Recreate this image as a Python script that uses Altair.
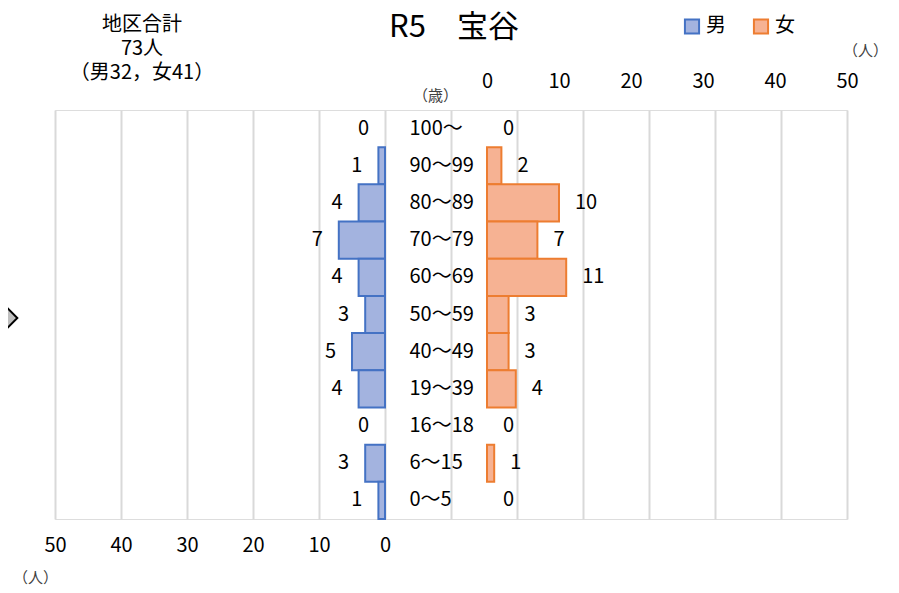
import altair as alt
import pandas as pd

# ---- data ----
ages = ["100～", "90～99", "80～89", "70～79", "60～69", "50～59",
        "40～49", "19～39", "16～18", "6～15", "0～5"]
male = [0, 1, 4, 7, 4, 3, 5, 4, 0, 3, 1]
female = [0, 2, 10, 7, 11, 3, 3, 4, 0, 1, 0]
tick_values = [0, 10, 20, 30, 40, 50]
grid_values = [-70, -60, -50, -40, -30, -20, -10, 0, 10, 20, 30, 40, 50]
title_text = "R5　宝谷"
sexes = ["男", "女"]

total_m = sum(male)
total_f = sum(female)
summary = f"地区合計\n{total_m + total_f}人\n（男{total_m}，女{total_f}）"

rows = []
for a, m, f in zip(ages, male, female):
    rows.append({"age": a, "sex": "男", "n": m})
    rows.append({"age": a, "sex": "女", "n": f})
df = pd.DataFrame(rows)

FONT = "Noto Sans CJK JP"
FS = 20
FILL = ["#a3b3df", "#f6b293"]
STROKE = ["#4472c4", "#ed7d31"]

y_enc = alt.Y(
    "age:N",
    sort=ages,
    scale=alt.Scale(paddingInner=0, paddingOuter=0),
    axis=alt.Axis(
        orient="right", offset=-438, domain=False, ticks=False, tickSize=0,
        labelPadding=0, labelAlign="left", labelFontSize=FS, labelColor="#000000",
        labelFont=FONT, grid=False,
        title="（歳）", titleAngle=0, titleX=26, titleY=-15,
        titleAlign="center", titleBaseline="middle", titleFontSize=15,
        titleFontWeight="normal", titleColor="#404040", titleFont=FONT,
    ),
)

legend_spec = dict(title=None, orient="none", direction="horizontal",
                   legendX=627, legendY=-94, symbolType="square",
                   symbolSize=200, symbolStrokeWidth=2,
                   labelFontSize=FS, labelFont=FONT, labelColor="#000000",
                   labelOffset=4, columnPadding=23, padding=0)
fill_enc = alt.Fill("sex:N", scale=alt.Scale(domain=sexes, range=FILL),
                    legend=alt.Legend(**legend_spec))
stroke_enc = alt.Stroke("sex:N", scale=alt.Scale(domain=sexes, range=STROKE),
                        legend=alt.Legend(**legend_spec))

base = alt.Chart(df)

# ---- male (left) ----
male_x = alt.X(
    "n:Q",
    scale=alt.Scale(domain=[-70, 50], reverse=True, nice=False, zero=False),
    axis=alt.Axis(
        orient="bottom", values=grid_values,
        labelExpr="datum.value >= 0 ? datum.label : ''",
        grid=True, gridColor="#d9d9d9", gridWidth=2,
        ticks=False, tickSize=0, domain=False, labelFlush=False,
        labelFontSize=FS, labelFont=FONT, labelColor="#000000", labelPadding=16,
        title="（人）", titleX=-20, titleY=58, titleAngle=0,
        titleAlign="center", titleBaseline="middle", titleFontSize=15,
        titleFontWeight="normal", titleColor="#404040", titleFont=FONT,
    ),
)
male_data = base.transform_filter("datum.sex == '男'")
male_bars = male_data.transform_filter("datum.n > 0").mark_bar(
    strokeWidth=2, opacity=1
).encode(x=male_x, x2=alt.datum(0), y=y_enc, fill=fill_enc, stroke=stroke_enc)
male_text = male_data.mark_text(
    align="right", baseline="middle", dx=-16, fontSize=FS, font=FONT, color="#000000"
).encode(x=male_x, y=y_enc, text="n:Q")
male_layer = alt.layer(male_bars, male_text)

# ---- female (right) ----
female_x = alt.X(
    "n:Q",
    scale=alt.Scale(domain=[0, 50], range=[432, 792], nice=False),
    axis=alt.Axis(
        orient="top", values=tick_values, grid=False,
        ticks=False, tickSize=0, domain=False, labelFlush=False,
        labelFontSize=FS, labelFont=FONT, labelColor="#000000", labelPadding=19,
        title="（人）", titleX=810, titleY=-60, titleAngle=0,
        titleAlign="center", titleBaseline="middle", titleFontSize=15,
        titleFontWeight="normal", titleColor="#404040", titleFont=FONT,
    ),
)
female_data = base.transform_filter("datum.sex == '女'")
female_bars = female_data.transform_filter("datum.n > 0").mark_bar(
    strokeWidth=2, opacity=1
).encode(x=female_x, x2=alt.datum(0), y=y_enc, fill=fill_enc, stroke=stroke_enc)
female_text = female_data.mark_text(
    align="left", baseline="middle", dx=16, fontSize=FS, font=FONT, color="#000000"
).encode(x=female_x, y=y_enc, text="n:Q")
female_layer = alt.layer(female_bars, female_text)

# ---- annotations ----
title_mark = alt.Chart(pd.DataFrame({"t": [title_text]})).mark_text(
    align="center", baseline="middle", fontSize=31, font=FONT, color="#000000"
).encode(text="t:N", x=alt.value(399), y=alt.value(-82))

summary_text = alt.Chart(pd.DataFrame({"t": [summary]})).mark_text(
    align="center", baseline="top", lineBreak="\n", lineHeight=24,
    fontSize=FS, font=FONT, color="#000000"
).encode(text="t:N", x=alt.value(87), y=alt.value(-95))

diamond = alt.Chart(pd.DataFrame({"k": [1]})).mark_point(
    shape="diamond", filled=True, fill="#bfbfbf", stroke="#000000",
    strokeWidth=2, size=1650, opacity=1
).encode(x=alt.value(-58), y=alt.value(208))

chart = alt.layer(
    male_layer, female_layer, title_mark, summary_text, diamond
).resolve_scale(
    x="independent"
).properties(
    width=792, height=409,
    autosize=alt.AutoSizeParams(type="none"),
    padding={"left": 47, "top": 102, "right": 44, "bottom": 66},
).configure_view(stroke=None).configure(font=FONT)

chart.save("out.html", embed_options={"renderer": "svg", "actions": False})
